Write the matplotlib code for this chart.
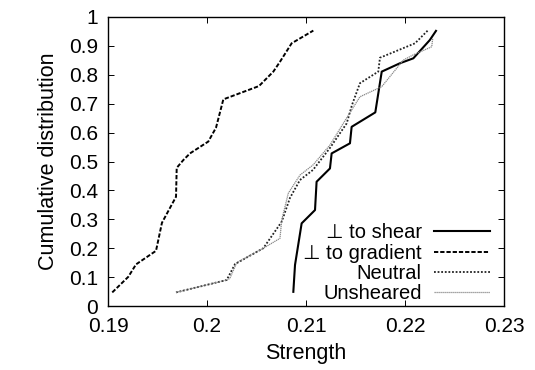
import matplotlib
matplotlib.use("Agg")
import matplotlib.pyplot as plt

plt.rcParams['font.family'] = ['Liberation Sans', 'DejaVu Sans']

# Data (strength, cumulative distribution)
shear_x = [0.20872, 0.20889, 0.20956, 0.21091, 0.21107, 0.21242, 0.21259, 0.21444,
           0.21461, 0.21700, 0.21765, 0.21949, 0.22084, 0.22250, 0.22313]
shear_y = [0.049, 0.142, 0.286, 0.332, 0.430, 0.476, 0.528, 0.563,
           0.620, 0.670, 0.811, 0.840, 0.857, 0.920, 0.952]

grad_x = [0.19043, 0.19205, 0.19283, 0.19485, 0.19545, 0.19687, 0.19694, 0.19761,
          0.19828, 0.20013, 0.20091, 0.20165, 0.20525, 0.20670, 0.20737, 0.20855, 0.21074]
grad_y = [0.047, 0.101, 0.144, 0.191, 0.288, 0.378, 0.478, 0.505,
          0.528, 0.569, 0.617, 0.715, 0.761, 0.811, 0.845, 0.909, 0.953]

neutral_x = [0.19687, 0.20199, 0.20283, 0.20569, 0.20755, 0.20838, 0.20939, 0.21071,
             0.21242, 0.21411, 0.21465, 0.21545, 0.21730, 0.21747, 0.22101, 0.22235]
neutral_y = [0.047, 0.090, 0.145, 0.200, 0.292, 0.374, 0.436, 0.471,
             0.547, 0.632, 0.696, 0.771, 0.811, 0.859, 0.909, 0.955]

unsheared_x = [0.19687, 0.20199, 0.20230, 0.20300, 0.20569, 0.20737, 0.20755, 0.20821,
               0.20939, 0.21071, 0.21242, 0.21411, 0.21545, 0.21765, 0.21983, 0.22084,
               0.22270, 0.22280]
unsheared_y = [0.047, 0.090, 0.095, 0.150, 0.200, 0.234, 0.298, 0.390,
               0.453, 0.488, 0.557, 0.651, 0.724, 0.759, 0.851, 0.869,
               0.897, 0.926]

labels = ['\u22a5 to shear', '\u22a5 to gradient', 'Neutral', 'Unsheared']

x_ticks = [0.19, 0.2, 0.21, 0.22, 0.23]
x_ticklabels = ['0.19', '0.2', '0.21', '0.22', '0.23']
y_ticks = [0, 0.1, 0.2, 0.3, 0.4, 0.5, 0.6, 0.7, 0.8, 0.9, 1]
y_ticklabels = ['0', '0.1', '0.2', '0.3', '0.4', '0.5', '0.6', '0.7', '0.8', '0.9', '1']

fig = plt.figure(figsize=(5.35, 3.70), dpi=100)
ax = fig.add_axes([108/535, 64/370, 396/535, 289/370])

ax.plot(shear_x, shear_y, color='black', lw=1.5, ls='-', label=labels[0])
ax.plot(grad_x, grad_y, color='black', lw=1.4, ls=(0, (2.2, 1.0)), label=labels[1])
ax.plot(neutral_x, neutral_y, color='#222222', lw=1.3, ls=(0, (1.0, 1.0)), label=labels[2])
ax.plot(unsheared_x, unsheared_y, color='#888888', lw=0.9, ls=(0, (1.0, 0.6)), label=labels[3])

ax.set_xlim(0.19, 0.23)
ax.set_ylim(0, 1)
ax.set_xticks(x_ticks)
ax.set_xticklabels(x_ticklabels)
ax.set_yticks(y_ticks)
ax.set_yticklabels(y_ticklabels)
ax.tick_params(direction='in', length=4, width=0.7, top=True, right=True,
               labelsize=15, colors='black')
ax.tick_params(axis='x', pad=8)
ax.tick_params(axis='y', pad=7)
for s in ax.spines.values():
    s.set_linewidth(1.0)
    s.set_color('black')

ax.set_xlabel('Strength', fontsize=15.5, labelpad=5)
ax.set_ylabel('Cumulative distribution', fontsize=15.5, labelpad=7)

leg = ax.legend(loc='lower right', markerfirst=False, frameon=False,
                fontsize=14.5, handlelength=2.8, handletextpad=0.6,
                labelspacing=0.06, borderaxespad=0.0, borderpad=0.0,
                bbox_to_anchor=(0.965, 0.01))

fig.savefig('out.png', dpi=100)
